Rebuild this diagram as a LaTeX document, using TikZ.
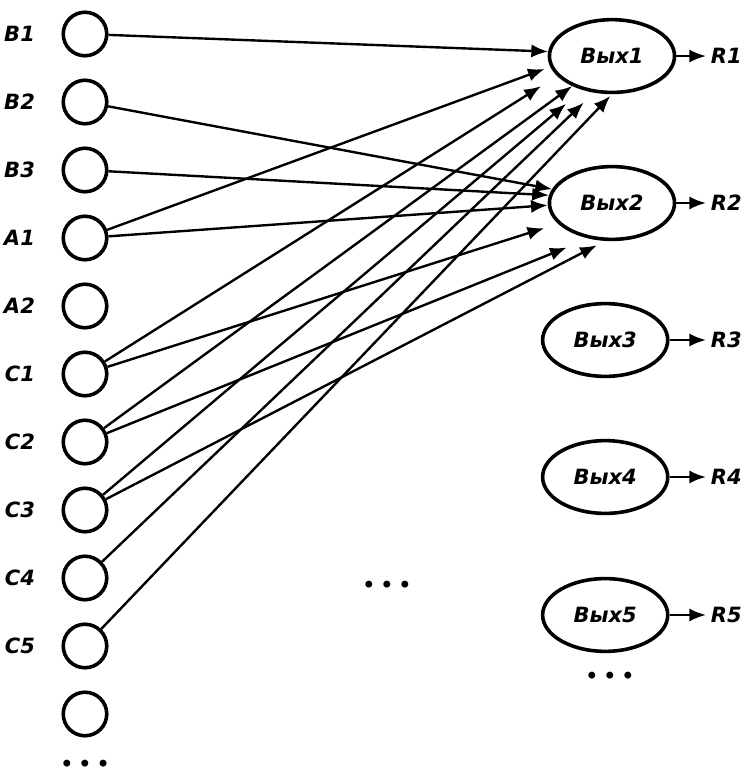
\documentclass[tikz,border=0pt]{standalone}
\usepackage{fontspec}
\setmainfont{DejaVu Sans}
\usetikzlibrary{shapes.geometric, arrows.meta, positioning}

\begin{document}
\begin{tikzpicture}[>={Latex[length=7pt,width=5.5pt]}, line width=1pt,
  every node/.style = {font=\fontsize{8.8}{10}\selectfont\bfseries\itshape},
  inp/.style = {draw, circle, line width=1.5pt, minimum size=6.4mm, inner sep=0pt},
  vyh/.style = {draw, ellipse, line width=1.5pt, minimum width=18.4mm, minimum height=10.7mm, inner sep=0pt},
  lbl/.style = {inner sep=1.5pt},
  dots/.style = {font=\fontsize{10}{11}\selectfont, inner sep=1pt}]
           \useasboundingbox (0,0) rectangle (10.97,-11.515);
           % inputs
           \node[inp] (b1) at (1.25,-0.5)  {};
           \node[inp] (b2) at (1.25,-1.5)  {};
           \node[inp] (b3) at (1.25,-2.5)  {};
           \node[inp] (a1) at (1.25,-3.5)  {};
           \node[inp] (a2) at (1.25,-4.5)  {};
           \node[inp] (c1) at (1.25,-5.5)  {};
           \node[inp] (c2) at (1.25,-6.5)  {};
           \node[inp] (c3) at (1.25,-7.5)  {};
           \node[inp] (c4) at (1.25,-8.5)  {};
           \node[inp] (c5) at (1.25,-9.5)  {};
           \node[inp] (c6) at (1.25,-10.5) {};
           \node[dots] (dl) at (1.25,-11.27) {•\,•\,•};

           \node[lbl, left=3.2mm of b1] (lb1) {B1};
           \node[lbl, left=3.2mm of b2] (lb2) {B2};
           \node[lbl, left=3.2mm of b3] (lb3) {B3};
           \node[lbl, left=3.2mm of a1] (la1) {A1};
           \node[lbl, left=3.2mm of a2] (la2) {A2};
           \node[lbl, left=3.2mm of c1] (lc1) {C1};
           \node[lbl, left=3.2mm of c2] (lc2) {C2};
           \node[lbl, left=3.2mm of c3] (lc3) {C3};
           \node[lbl, left=3.2mm of c4] (lc4) {C4};
           \node[lbl, left=3.2mm of c5] (lc5) {C5};

           % outputs
           \node[vyh] (v1) at (9.0,-0.824)   {Вых1};
           \node[vyh] (v2) at (9.0,-2.985)   {Вых2};
           \node[vyh] (v3) at (8.9,-5.0)     {Вых3};
           \node[vyh] (v4) at (8.9,-7.015)   {Вых4};
           \node[vyh] (v5) at (8.9,-9.044)   {Вых5};
           \node[dots] (dr) at (8.97,-9.98)  {•\,•\,•};
           \node[dots] (dm) at (5.69,-8.63)  {•\,•\,•};

           \node[lbl] (r1) at (10.68,-0.824) {R1};
           \node[lbl] (r2) at (10.68,-2.985) {R2};
           \node[lbl] (r3) at (10.68,-5.0)   {R3};
           \node[lbl] (r4) at (10.68,-7.015) {R4};
           \node[lbl] (r5) at (10.68,-9.044) {R5};

           \path[->]
           (b1) edge                    (v1.176)
           (a1) edge[shorten >=2.5pt]   (v1.190)
           (c1) edge[shorten >=8pt]     (v1.200)
           (c2) edge                    (v1.217)
           (c3) edge[shorten >=9pt]     (v1.229)
           (c4) edge[shorten >=6pt]     (v1.244)
           (c5) edge[shorten >=1pt]     (v1.270)
           (b2) edge                    (v2.167)
           (b3) edge                    (v2.173)
           (a1) edge                    (v2.182)
           (c1) edge[shorten >=6pt]     (v2.201)
           (c2) edge[shorten >=10pt]    (v2.237)
           (c3) edge[shorten >=4pt]     (v2.260)
           (v1) edge (r1)
           (v2) edge (r2)
           (v3) edge (r3)
           (v4) edge (r4)
           (v5) edge (r5);
         \end{tikzpicture}
\end{document}
